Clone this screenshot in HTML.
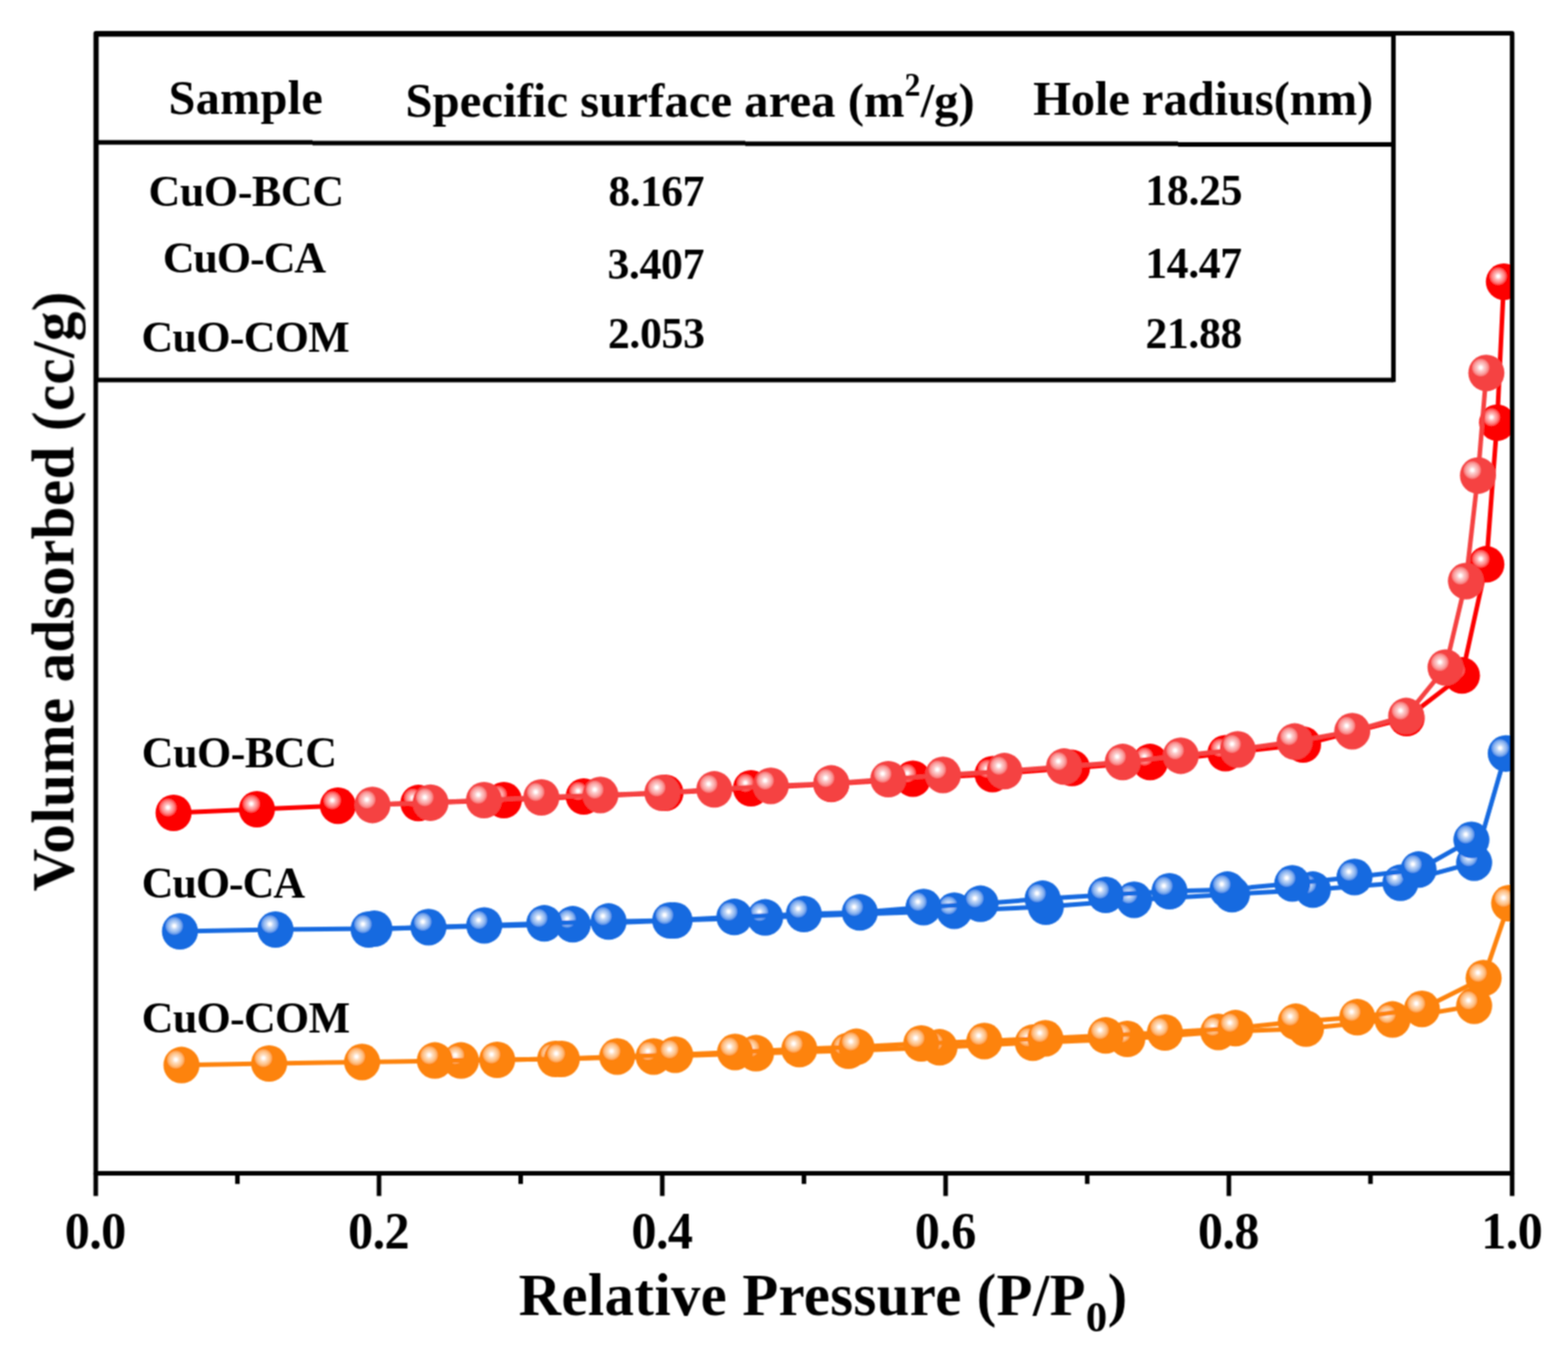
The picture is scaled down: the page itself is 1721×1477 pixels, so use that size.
<!DOCTYPE html>
<html lang="en"><head><meta charset="utf-8"><title>N2 adsorption-desorption isotherms</title>
<style>
html,body{margin:0;padding:0;background:#fff;}
body{width:1721px;height:1477px;overflow:hidden;}
svg{display:block;}
text{font-family:"Liberation Serif","DejaVu Serif",serif;font-weight:bold;fill:#000;}
</style></head><body>
<svg width="1721" height="1477" viewBox="0 0 1721 1477">
<defs>
<clipPath id="pc"><rect x="105.1" y="36.6" width="1554.6" height="1250.8"/></clipPath>
<radialGradient id="grA" cx="0.343" cy="0.352" r="0.25" fx="0.343" fy="0.352"><stop offset="0" stop-color="#fff"/><stop offset="0.12" stop-color="#fff"/><stop offset="0.36" stop-color="#fff" stop-opacity="0.74"/><stop offset="0.68" stop-color="#fff" stop-opacity="0.52"/><stop offset="0.9" stop-color="#fff" stop-opacity="0.3"/><stop offset="1" stop-color="#fff" stop-opacity="0"/></radialGradient>
<radialGradient id="grB" cx="0.343" cy="0.352" r="0.25" fx="0.343" fy="0.352"><stop offset="0" stop-color="#fff"/><stop offset="0.12" stop-color="#fff"/><stop offset="0.36" stop-color="#fff" stop-opacity="0.74"/><stop offset="0.68" stop-color="#fff" stop-opacity="0.52"/><stop offset="0.9" stop-color="#fff" stop-opacity="0.3"/><stop offset="1" stop-color="#fff" stop-opacity="0"/></radialGradient>
<radialGradient id="gbA" cx="0.343" cy="0.352" r="0.25" fx="0.343" fy="0.352"><stop offset="0" stop-color="#fff"/><stop offset="0.12" stop-color="#fff"/><stop offset="0.36" stop-color="#fff" stop-opacity="0.74"/><stop offset="0.68" stop-color="#fff" stop-opacity="0.52"/><stop offset="0.9" stop-color="#fff" stop-opacity="0.3"/><stop offset="1" stop-color="#fff" stop-opacity="0"/></radialGradient>
<radialGradient id="gbB" cx="0.343" cy="0.352" r="0.25" fx="0.343" fy="0.352"><stop offset="0" stop-color="#fff"/><stop offset="0.12" stop-color="#fff"/><stop offset="0.36" stop-color="#fff" stop-opacity="0.74"/><stop offset="0.68" stop-color="#fff" stop-opacity="0.52"/><stop offset="0.9" stop-color="#fff" stop-opacity="0.3"/><stop offset="1" stop-color="#fff" stop-opacity="0"/></radialGradient>
<radialGradient id="goA" cx="0.343" cy="0.352" r="0.25" fx="0.343" fy="0.352"><stop offset="0" stop-color="#fff"/><stop offset="0.12" stop-color="#fff"/><stop offset="0.36" stop-color="#fff" stop-opacity="0.74"/><stop offset="0.68" stop-color="#fff" stop-opacity="0.52"/><stop offset="0.9" stop-color="#fff" stop-opacity="0.3"/><stop offset="1" stop-color="#fff" stop-opacity="0"/></radialGradient>
<radialGradient id="goB" cx="0.343" cy="0.352" r="0.25" fx="0.343" fy="0.352"><stop offset="0" stop-color="#fff"/><stop offset="0.12" stop-color="#fff"/><stop offset="0.36" stop-color="#fff" stop-opacity="0.74"/><stop offset="0.68" stop-color="#fff" stop-opacity="0.52"/><stop offset="0.9" stop-color="#fff" stop-opacity="0.3"/><stop offset="1" stop-color="#fff" stop-opacity="0"/></radialGradient>
<filter id="soft" x="0" y="0" width="1721" height="1477" filterUnits="userSpaceOnUse"><feConvolveMatrix order="3" kernelMatrix="1 2 1 2 4 2 1 2 1" divisor="16" edgeMode="duplicate"/></filter>
</defs>
<rect x="0" y="0" width="1721" height="1477" fill="#fff"/>
<g filter="url(#soft)">
<g clip-path="url(#pc)">
<polyline points="190.5,892 282,888 370.9,884.1 459.2,881.2 553,878 640.7,874 730.4,870 824.3,865 912.4,860.2 1002,854.5 1089.4,849.5 1176.6,842.7 1262.3,836.2 1345,826.5 1430.2,817 1543.9,788 1604.6,741.2 1631.4,619.2 1643.2,463.8 1650.6,309.1" fill="none" stroke="#fd0101" stroke-width="5.0" stroke-linejoin="round"/>
<ellipse cx="190.5" cy="892" rx="19.8" ry="20.1" fill="#fd0101"/><ellipse cx="190.5" cy="892" rx="19.8" ry="20.1" fill="url(#grA)"/>
<ellipse cx="282" cy="888" rx="19.8" ry="20.1" fill="#fd0101"/><ellipse cx="282" cy="888" rx="19.8" ry="20.1" fill="url(#grA)"/>
<ellipse cx="370.9" cy="884.1" rx="19.8" ry="20.1" fill="#fd0101"/><ellipse cx="370.9" cy="884.1" rx="19.8" ry="20.1" fill="url(#grA)"/>
<ellipse cx="459.2" cy="881.2" rx="19.8" ry="20.1" fill="#fd0101"/><ellipse cx="459.2" cy="881.2" rx="19.8" ry="20.1" fill="url(#grA)"/>
<ellipse cx="553" cy="878" rx="19.8" ry="20.1" fill="#fd0101"/><ellipse cx="553" cy="878" rx="19.8" ry="20.1" fill="url(#grA)"/>
<ellipse cx="640.7" cy="874" rx="19.8" ry="20.1" fill="#fd0101"/><ellipse cx="640.7" cy="874" rx="19.8" ry="20.1" fill="url(#grA)"/>
<ellipse cx="730.4" cy="870" rx="19.8" ry="20.1" fill="#fd0101"/><ellipse cx="730.4" cy="870" rx="19.8" ry="20.1" fill="url(#grA)"/>
<ellipse cx="824.3" cy="865" rx="19.8" ry="20.1" fill="#fd0101"/><ellipse cx="824.3" cy="865" rx="19.8" ry="20.1" fill="url(#grA)"/>
<ellipse cx="912.4" cy="860.2" rx="19.8" ry="20.1" fill="#fd0101"/><ellipse cx="912.4" cy="860.2" rx="19.8" ry="20.1" fill="url(#grA)"/>
<ellipse cx="1002" cy="854.5" rx="19.8" ry="20.1" fill="#fd0101"/><ellipse cx="1002" cy="854.5" rx="19.8" ry="20.1" fill="url(#grA)"/>
<ellipse cx="1089.4" cy="849.5" rx="19.8" ry="20.1" fill="#fd0101"/><ellipse cx="1089.4" cy="849.5" rx="19.8" ry="20.1" fill="url(#grA)"/>
<ellipse cx="1176.6" cy="842.7" rx="19.8" ry="20.1" fill="#fd0101"/><ellipse cx="1176.6" cy="842.7" rx="19.8" ry="20.1" fill="url(#grA)"/>
<ellipse cx="1262.3" cy="836.2" rx="19.8" ry="20.1" fill="#fd0101"/><ellipse cx="1262.3" cy="836.2" rx="19.8" ry="20.1" fill="url(#grA)"/>
<ellipse cx="1345" cy="826.5" rx="19.8" ry="20.1" fill="#fd0101"/><ellipse cx="1345" cy="826.5" rx="19.8" ry="20.1" fill="url(#grA)"/>
<ellipse cx="1430.2" cy="817" rx="19.8" ry="20.1" fill="#fd0101"/><ellipse cx="1430.2" cy="817" rx="19.8" ry="20.1" fill="url(#grA)"/>
<ellipse cx="1543.9" cy="788" rx="19.8" ry="20.1" fill="#fd0101"/><ellipse cx="1543.9" cy="788" rx="19.8" ry="20.1" fill="url(#grA)"/>
<ellipse cx="1604.6" cy="741.2" rx="19.8" ry="20.1" fill="#fd0101"/><ellipse cx="1604.6" cy="741.2" rx="19.8" ry="20.1" fill="url(#grA)"/>
<ellipse cx="1631.4" cy="619.2" rx="19.8" ry="20.1" fill="#fd0101"/><ellipse cx="1631.4" cy="619.2" rx="19.8" ry="20.1" fill="url(#grA)"/>
<ellipse cx="1643.2" cy="463.8" rx="19.8" ry="20.1" fill="#fd0101"/><ellipse cx="1643.2" cy="463.8" rx="19.8" ry="20.1" fill="url(#grA)"/>
<ellipse cx="1650.6" cy="309.1" rx="19.8" ry="20.1" fill="#fd0101"/><ellipse cx="1650.6" cy="309.1" rx="19.8" ry="20.1" fill="url(#grA)"/>
<polyline points="408.8,883.3 472.5,880.8 531.2,878 594.2,875 659,872.4 727,870 784,866.2 846,862.4 912.4,859.7 975,855 1035,850.4 1102.4,846.2 1167.9,841.2 1232.3,836.2 1296,829.3 1358.5,822.4 1421,813.7 1484.2,802.4 1543.4,785.7 1586.6,732.5 1609,637.6 1622.2,521.8 1631.4,409.3" fill="none" stroke="#f54242" stroke-width="5.0" stroke-linejoin="round"/>
<ellipse cx="408.8" cy="883.3" rx="19.8" ry="20.1" fill="#f54242"/><ellipse cx="408.8" cy="883.3" rx="19.8" ry="20.1" fill="url(#grB)"/>
<ellipse cx="472.5" cy="880.8" rx="19.8" ry="20.1" fill="#f54242"/><ellipse cx="472.5" cy="880.8" rx="19.8" ry="20.1" fill="url(#grB)"/>
<ellipse cx="531.2" cy="878" rx="19.8" ry="20.1" fill="#f54242"/><ellipse cx="531.2" cy="878" rx="19.8" ry="20.1" fill="url(#grB)"/>
<ellipse cx="594.2" cy="875" rx="19.8" ry="20.1" fill="#f54242"/><ellipse cx="594.2" cy="875" rx="19.8" ry="20.1" fill="url(#grB)"/>
<ellipse cx="659" cy="872.4" rx="19.8" ry="20.1" fill="#f54242"/><ellipse cx="659" cy="872.4" rx="19.8" ry="20.1" fill="url(#grB)"/>
<ellipse cx="727" cy="870" rx="19.8" ry="20.1" fill="#f54242"/><ellipse cx="727" cy="870" rx="19.8" ry="20.1" fill="url(#grB)"/>
<ellipse cx="784" cy="866.2" rx="19.8" ry="20.1" fill="#f54242"/><ellipse cx="784" cy="866.2" rx="19.8" ry="20.1" fill="url(#grB)"/>
<ellipse cx="846" cy="862.4" rx="19.8" ry="20.1" fill="#f54242"/><ellipse cx="846" cy="862.4" rx="19.8" ry="20.1" fill="url(#grB)"/>
<ellipse cx="912.4" cy="859.7" rx="19.8" ry="20.1" fill="#f54242"/><ellipse cx="912.4" cy="859.7" rx="19.8" ry="20.1" fill="url(#grB)"/>
<ellipse cx="975" cy="855" rx="19.8" ry="20.1" fill="#f54242"/><ellipse cx="975" cy="855" rx="19.8" ry="20.1" fill="url(#grB)"/>
<ellipse cx="1035" cy="850.4" rx="19.8" ry="20.1" fill="#f54242"/><ellipse cx="1035" cy="850.4" rx="19.8" ry="20.1" fill="url(#grB)"/>
<ellipse cx="1102.4" cy="846.2" rx="19.8" ry="20.1" fill="#f54242"/><ellipse cx="1102.4" cy="846.2" rx="19.8" ry="20.1" fill="url(#grB)"/>
<ellipse cx="1167.9" cy="841.2" rx="19.8" ry="20.1" fill="#f54242"/><ellipse cx="1167.9" cy="841.2" rx="19.8" ry="20.1" fill="url(#grB)"/>
<ellipse cx="1232.3" cy="836.2" rx="19.8" ry="20.1" fill="#f54242"/><ellipse cx="1232.3" cy="836.2" rx="19.8" ry="20.1" fill="url(#grB)"/>
<ellipse cx="1296" cy="829.3" rx="19.8" ry="20.1" fill="#f54242"/><ellipse cx="1296" cy="829.3" rx="19.8" ry="20.1" fill="url(#grB)"/>
<ellipse cx="1358.5" cy="822.4" rx="19.8" ry="20.1" fill="#f54242"/><ellipse cx="1358.5" cy="822.4" rx="19.8" ry="20.1" fill="url(#grB)"/>
<ellipse cx="1421" cy="813.7" rx="19.8" ry="20.1" fill="#f54242"/><ellipse cx="1421" cy="813.7" rx="19.8" ry="20.1" fill="url(#grB)"/>
<ellipse cx="1484.2" cy="802.4" rx="19.8" ry="20.1" fill="#f54242"/><ellipse cx="1484.2" cy="802.4" rx="19.8" ry="20.1" fill="url(#grB)"/>
<ellipse cx="1543.4" cy="785.7" rx="19.8" ry="20.1" fill="#f54242"/><ellipse cx="1543.4" cy="785.7" rx="19.8" ry="20.1" fill="url(#grB)"/>
<ellipse cx="1586.6" cy="732.5" rx="19.8" ry="20.1" fill="#f54242"/><ellipse cx="1586.6" cy="732.5" rx="19.8" ry="20.1" fill="url(#grB)"/>
<ellipse cx="1609" cy="637.6" rx="19.8" ry="20.1" fill="#f54242"/><ellipse cx="1609" cy="637.6" rx="19.8" ry="20.1" fill="url(#grB)"/>
<ellipse cx="1622.2" cy="521.8" rx="19.8" ry="20.1" fill="#f54242"/><ellipse cx="1622.2" cy="521.8" rx="19.8" ry="20.1" fill="url(#grB)"/>
<ellipse cx="1631.4" cy="409.3" rx="19.8" ry="20.1" fill="#f54242"/><ellipse cx="1631.4" cy="409.3" rx="19.8" ry="20.1" fill="url(#grB)"/>
<polyline points="197.5,1022 302.4,1020 410.9,1019 628.7,1014.2 740.4,1010 839.8,1006.7 1047.4,999.4 1147.9,995 1244.8,987.4 1352.2,981.2 1441,976.2 1537.1,968.7 1618,946.6 1652.7,826.8" fill="none" stroke="#196ae0" stroke-width="5.0" stroke-linejoin="round"/>
<ellipse cx="197.5" cy="1022" rx="19.8" ry="20.1" fill="#196ae0"/><ellipse cx="197.5" cy="1022" rx="19.8" ry="20.1" fill="url(#gbA)"/>
<ellipse cx="302.4" cy="1020" rx="19.8" ry="20.1" fill="#196ae0"/><ellipse cx="302.4" cy="1020" rx="19.8" ry="20.1" fill="url(#gbA)"/>
<ellipse cx="410.9" cy="1019" rx="19.8" ry="20.1" fill="#196ae0"/><ellipse cx="410.9" cy="1019" rx="19.8" ry="20.1" fill="url(#gbA)"/>
<ellipse cx="628.7" cy="1014.2" rx="19.8" ry="20.1" fill="#196ae0"/><ellipse cx="628.7" cy="1014.2" rx="19.8" ry="20.1" fill="url(#gbA)"/>
<ellipse cx="740.4" cy="1010" rx="19.8" ry="20.1" fill="#196ae0"/><ellipse cx="740.4" cy="1010" rx="19.8" ry="20.1" fill="url(#gbA)"/>
<ellipse cx="839.8" cy="1006.7" rx="19.8" ry="20.1" fill="#196ae0"/><ellipse cx="839.8" cy="1006.7" rx="19.8" ry="20.1" fill="url(#gbA)"/>
<ellipse cx="1047.4" cy="999.4" rx="19.8" ry="20.1" fill="#196ae0"/><ellipse cx="1047.4" cy="999.4" rx="19.8" ry="20.1" fill="url(#gbA)"/>
<ellipse cx="1147.9" cy="995" rx="19.8" ry="20.1" fill="#196ae0"/><ellipse cx="1147.9" cy="995" rx="19.8" ry="20.1" fill="url(#gbA)"/>
<ellipse cx="1244.8" cy="987.4" rx="19.8" ry="20.1" fill="#196ae0"/><ellipse cx="1244.8" cy="987.4" rx="19.8" ry="20.1" fill="url(#gbA)"/>
<ellipse cx="1352.2" cy="981.2" rx="19.8" ry="20.1" fill="#196ae0"/><ellipse cx="1352.2" cy="981.2" rx="19.8" ry="20.1" fill="url(#gbA)"/>
<ellipse cx="1441" cy="976.2" rx="19.8" ry="20.1" fill="#196ae0"/><ellipse cx="1441" cy="976.2" rx="19.8" ry="20.1" fill="url(#gbA)"/>
<ellipse cx="1537.1" cy="968.7" rx="19.8" ry="20.1" fill="#196ae0"/><ellipse cx="1537.1" cy="968.7" rx="19.8" ry="20.1" fill="url(#gbA)"/>
<ellipse cx="1618" cy="946.6" rx="19.8" ry="20.1" fill="#196ae0"/><ellipse cx="1618" cy="946.6" rx="19.8" ry="20.1" fill="url(#gbA)"/>
<ellipse cx="1652.7" cy="826.8" rx="19.8" ry="20.1" fill="#196ae0"/><ellipse cx="1652.7" cy="826.8" rx="19.8" ry="20.1" fill="url(#gbA)"/>
<polyline points="404.6,1020 470.3,1017.4 531.5,1015.5 597.4,1013.2 668,1011.2 735.6,1010 806,1006.2 882.3,1003 943.7,1001.2 1013.7,995.4 1076.2,991.7 1144.4,986.2 1213.6,982 1283.6,978 1347.2,976.2 1418.4,969.4 1486.7,962.4 1557,954.2 1615,921.6" fill="none" stroke="#196ae0" stroke-width="5.0" stroke-linejoin="round"/>
<ellipse cx="404.6" cy="1020" rx="19.8" ry="20.1" fill="#196ae0"/><ellipse cx="404.6" cy="1020" rx="19.8" ry="20.1" fill="url(#gbB)"/>
<ellipse cx="470.3" cy="1017.4" rx="19.8" ry="20.1" fill="#196ae0"/><ellipse cx="470.3" cy="1017.4" rx="19.8" ry="20.1" fill="url(#gbB)"/>
<ellipse cx="531.5" cy="1015.5" rx="19.8" ry="20.1" fill="#196ae0"/><ellipse cx="531.5" cy="1015.5" rx="19.8" ry="20.1" fill="url(#gbB)"/>
<ellipse cx="597.4" cy="1013.2" rx="19.8" ry="20.1" fill="#196ae0"/><ellipse cx="597.4" cy="1013.2" rx="19.8" ry="20.1" fill="url(#gbB)"/>
<ellipse cx="668" cy="1011.2" rx="19.8" ry="20.1" fill="#196ae0"/><ellipse cx="668" cy="1011.2" rx="19.8" ry="20.1" fill="url(#gbB)"/>
<ellipse cx="735.6" cy="1010" rx="19.8" ry="20.1" fill="#196ae0"/><ellipse cx="735.6" cy="1010" rx="19.8" ry="20.1" fill="url(#gbB)"/>
<ellipse cx="806" cy="1006.2" rx="19.8" ry="20.1" fill="#196ae0"/><ellipse cx="806" cy="1006.2" rx="19.8" ry="20.1" fill="url(#gbB)"/>
<ellipse cx="882.3" cy="1003" rx="19.8" ry="20.1" fill="#196ae0"/><ellipse cx="882.3" cy="1003" rx="19.8" ry="20.1" fill="url(#gbB)"/>
<ellipse cx="943.7" cy="1001.2" rx="19.8" ry="20.1" fill="#196ae0"/><ellipse cx="943.7" cy="1001.2" rx="19.8" ry="20.1" fill="url(#gbB)"/>
<ellipse cx="1013.7" cy="995.4" rx="19.8" ry="20.1" fill="#196ae0"/><ellipse cx="1013.7" cy="995.4" rx="19.8" ry="20.1" fill="url(#gbB)"/>
<ellipse cx="1076.2" cy="991.7" rx="19.8" ry="20.1" fill="#196ae0"/><ellipse cx="1076.2" cy="991.7" rx="19.8" ry="20.1" fill="url(#gbB)"/>
<ellipse cx="1144.4" cy="986.2" rx="19.8" ry="20.1" fill="#196ae0"/><ellipse cx="1144.4" cy="986.2" rx="19.8" ry="20.1" fill="url(#gbB)"/>
<ellipse cx="1213.6" cy="982" rx="19.8" ry="20.1" fill="#196ae0"/><ellipse cx="1213.6" cy="982" rx="19.8" ry="20.1" fill="url(#gbB)"/>
<ellipse cx="1283.6" cy="978" rx="19.8" ry="20.1" fill="#196ae0"/><ellipse cx="1283.6" cy="978" rx="19.8" ry="20.1" fill="url(#gbB)"/>
<ellipse cx="1347.2" cy="976.2" rx="19.8" ry="20.1" fill="#196ae0"/><ellipse cx="1347.2" cy="976.2" rx="19.8" ry="20.1" fill="url(#gbB)"/>
<ellipse cx="1418.4" cy="969.4" rx="19.8" ry="20.1" fill="#196ae0"/><ellipse cx="1418.4" cy="969.4" rx="19.8" ry="20.1" fill="url(#gbB)"/>
<ellipse cx="1486.7" cy="962.4" rx="19.8" ry="20.1" fill="#196ae0"/><ellipse cx="1486.7" cy="962.4" rx="19.8" ry="20.1" fill="url(#gbB)"/>
<ellipse cx="1557" cy="954.2" rx="19.8" ry="20.1" fill="#196ae0"/><ellipse cx="1557" cy="954.2" rx="19.8" ry="20.1" fill="url(#gbB)"/>
<ellipse cx="1615" cy="921.6" rx="19.8" ry="20.1" fill="#196ae0"/><ellipse cx="1615" cy="921.6" rx="19.8" ry="20.1" fill="url(#gbB)"/>
<polyline points="199.2,1168.7 295.4,1167 397.4,1165.4 506,1163.7 609.4,1162 717.4,1159.4 829.8,1155.7 931.2,1153 1031.2,1149.2 1133.6,1144.2 1237.3,1140 1337.2,1132.4 1433.4,1128.7 1528.4,1118.7 1618,1103.6 1656.4,991.1" fill="none" stroke="#fd8310" stroke-width="5.0" stroke-linejoin="round"/>
<ellipse cx="199.2" cy="1168.7" rx="19.8" ry="20.1" fill="#fd8310"/><ellipse cx="199.2" cy="1168.7" rx="19.8" ry="20.1" fill="url(#goA)"/>
<ellipse cx="295.4" cy="1167" rx="19.8" ry="20.1" fill="#fd8310"/><ellipse cx="295.4" cy="1167" rx="19.8" ry="20.1" fill="url(#goA)"/>
<ellipse cx="397.4" cy="1165.4" rx="19.8" ry="20.1" fill="#fd8310"/><ellipse cx="397.4" cy="1165.4" rx="19.8" ry="20.1" fill="url(#goA)"/>
<ellipse cx="506" cy="1163.7" rx="19.8" ry="20.1" fill="#fd8310"/><ellipse cx="506" cy="1163.7" rx="19.8" ry="20.1" fill="url(#goA)"/>
<ellipse cx="609.4" cy="1162" rx="19.8" ry="20.1" fill="#fd8310"/><ellipse cx="609.4" cy="1162" rx="19.8" ry="20.1" fill="url(#goA)"/>
<ellipse cx="717.4" cy="1159.4" rx="19.8" ry="20.1" fill="#fd8310"/><ellipse cx="717.4" cy="1159.4" rx="19.8" ry="20.1" fill="url(#goA)"/>
<ellipse cx="829.8" cy="1155.7" rx="19.8" ry="20.1" fill="#fd8310"/><ellipse cx="829.8" cy="1155.7" rx="19.8" ry="20.1" fill="url(#goA)"/>
<ellipse cx="931.2" cy="1153" rx="19.8" ry="20.1" fill="#fd8310"/><ellipse cx="931.2" cy="1153" rx="19.8" ry="20.1" fill="url(#goA)"/>
<ellipse cx="1031.2" cy="1149.2" rx="19.8" ry="20.1" fill="#fd8310"/><ellipse cx="1031.2" cy="1149.2" rx="19.8" ry="20.1" fill="url(#goA)"/>
<ellipse cx="1133.6" cy="1144.2" rx="19.8" ry="20.1" fill="#fd8310"/><ellipse cx="1133.6" cy="1144.2" rx="19.8" ry="20.1" fill="url(#goA)"/>
<ellipse cx="1237.3" cy="1140" rx="19.8" ry="20.1" fill="#fd8310"/><ellipse cx="1237.3" cy="1140" rx="19.8" ry="20.1" fill="url(#goA)"/>
<ellipse cx="1337.2" cy="1132.4" rx="19.8" ry="20.1" fill="#fd8310"/><ellipse cx="1337.2" cy="1132.4" rx="19.8" ry="20.1" fill="url(#goA)"/>
<ellipse cx="1433.4" cy="1128.7" rx="19.8" ry="20.1" fill="#fd8310"/><ellipse cx="1433.4" cy="1128.7" rx="19.8" ry="20.1" fill="url(#goA)"/>
<ellipse cx="1528.4" cy="1118.7" rx="19.8" ry="20.1" fill="#fd8310"/><ellipse cx="1528.4" cy="1118.7" rx="19.8" ry="20.1" fill="url(#goA)"/>
<ellipse cx="1618" cy="1103.6" rx="19.8" ry="20.1" fill="#fd8310"/><ellipse cx="1618" cy="1103.6" rx="19.8" ry="20.1" fill="url(#goA)"/>
<ellipse cx="1656.4" cy="991.1" rx="19.8" ry="20.1" fill="#fd8310"/><ellipse cx="1656.4" cy="991.1" rx="19.8" ry="20.1" fill="url(#goA)"/>
<polyline points="477.3,1163.7 545.7,1163 616.7,1162 677.4,1159.4 741.1,1157.4 806.8,1154.4 877.3,1151.2 940,1148.7 1011.2,1145 1080.4,1142.4 1147.4,1139.4 1213.6,1136.2 1278.6,1133 1356,1128.2 1422.2,1121.2 1489.7,1116.2 1560.7,1107.1 1628.4,1073.3" fill="none" stroke="#fd8310" stroke-width="5.0" stroke-linejoin="round"/>
<ellipse cx="477.3" cy="1163.7" rx="19.8" ry="20.1" fill="#fd8310"/><ellipse cx="477.3" cy="1163.7" rx="19.8" ry="20.1" fill="url(#goB)"/>
<ellipse cx="545.7" cy="1163" rx="19.8" ry="20.1" fill="#fd8310"/><ellipse cx="545.7" cy="1163" rx="19.8" ry="20.1" fill="url(#goB)"/>
<ellipse cx="616.7" cy="1162" rx="19.8" ry="20.1" fill="#fd8310"/><ellipse cx="616.7" cy="1162" rx="19.8" ry="20.1" fill="url(#goB)"/>
<ellipse cx="677.4" cy="1159.4" rx="19.8" ry="20.1" fill="#fd8310"/><ellipse cx="677.4" cy="1159.4" rx="19.8" ry="20.1" fill="url(#goB)"/>
<ellipse cx="741.1" cy="1157.4" rx="19.8" ry="20.1" fill="#fd8310"/><ellipse cx="741.1" cy="1157.4" rx="19.8" ry="20.1" fill="url(#goB)"/>
<ellipse cx="806.8" cy="1154.4" rx="19.8" ry="20.1" fill="#fd8310"/><ellipse cx="806.8" cy="1154.4" rx="19.8" ry="20.1" fill="url(#goB)"/>
<ellipse cx="877.3" cy="1151.2" rx="19.8" ry="20.1" fill="#fd8310"/><ellipse cx="877.3" cy="1151.2" rx="19.8" ry="20.1" fill="url(#goB)"/>
<ellipse cx="940" cy="1148.7" rx="19.8" ry="20.1" fill="#fd8310"/><ellipse cx="940" cy="1148.7" rx="19.8" ry="20.1" fill="url(#goB)"/>
<ellipse cx="1011.2" cy="1145" rx="19.8" ry="20.1" fill="#fd8310"/><ellipse cx="1011.2" cy="1145" rx="19.8" ry="20.1" fill="url(#goB)"/>
<ellipse cx="1080.4" cy="1142.4" rx="19.8" ry="20.1" fill="#fd8310"/><ellipse cx="1080.4" cy="1142.4" rx="19.8" ry="20.1" fill="url(#goB)"/>
<ellipse cx="1147.4" cy="1139.4" rx="19.8" ry="20.1" fill="#fd8310"/><ellipse cx="1147.4" cy="1139.4" rx="19.8" ry="20.1" fill="url(#goB)"/>
<ellipse cx="1213.6" cy="1136.2" rx="19.8" ry="20.1" fill="#fd8310"/><ellipse cx="1213.6" cy="1136.2" rx="19.8" ry="20.1" fill="url(#goB)"/>
<ellipse cx="1278.6" cy="1133" rx="19.8" ry="20.1" fill="#fd8310"/><ellipse cx="1278.6" cy="1133" rx="19.8" ry="20.1" fill="url(#goB)"/>
<ellipse cx="1356" cy="1128.2" rx="19.8" ry="20.1" fill="#fd8310"/><ellipse cx="1356" cy="1128.2" rx="19.8" ry="20.1" fill="url(#goB)"/>
<ellipse cx="1422.2" cy="1121.2" rx="19.8" ry="20.1" fill="#fd8310"/><ellipse cx="1422.2" cy="1121.2" rx="19.8" ry="20.1" fill="url(#goB)"/>
<ellipse cx="1489.7" cy="1116.2" rx="19.8" ry="20.1" fill="#fd8310"/><ellipse cx="1489.7" cy="1116.2" rx="19.8" ry="20.1" fill="url(#goB)"/>
<ellipse cx="1560.7" cy="1107.1" rx="19.8" ry="20.1" fill="#fd8310"/><ellipse cx="1560.7" cy="1107.1" rx="19.8" ry="20.1" fill="url(#goB)"/>
<ellipse cx="1628.4" cy="1073.3" rx="19.8" ry="20.1" fill="#fd8310"/><ellipse cx="1628.4" cy="1073.3" rx="19.8" ry="20.1" fill="url(#goB)"/>
</g>
<g stroke="#000" stroke-width="5" fill="none">
<line x1="1529.4" y1="36.6" x2="1529.4" y2="419.2"/>
<line x1="105.1" y1="416.9" x2="1529.4" y2="416.9"/>
<line x1="105.1" y1="37.7" x2="1529.4" y2="37.7"/>
<line x1="105.8" y1="36.6" x2="105.8" y2="416.9"/>
<line x1="105.1" y1="156.2" x2="343" y2="156.2"/>
<line x1="343" y1="157.0" x2="818" y2="157.0"/>
<line x1="818" y1="157.7" x2="1293" y2="157.7"/>
<line x1="1293" y1="158.4" x2="1529.4" y2="158.4"/>
</g>
<rect x="105.1" y="36.6" width="1554.6" height="1250.8" fill="none" stroke="#000" stroke-width="5.0" stroke-linejoin="round"/>
<g stroke="#000" stroke-width="5.0">
<line x1="105.1" y1="1287.3" x2="105.1" y2="1312.4"/>
<line x1="260.6" y1="1287.3" x2="260.6" y2="1299.2"/>
<line x1="416" y1="1287.3" x2="416" y2="1312.4"/>
<line x1="571.5" y1="1287.3" x2="571.5" y2="1299.2"/>
<line x1="726.9" y1="1287.3" x2="726.9" y2="1312.4"/>
<line x1="882.4" y1="1287.3" x2="882.4" y2="1299.2"/>
<line x1="1037.9" y1="1287.3" x2="1037.9" y2="1312.4"/>
<line x1="1193.3" y1="1287.3" x2="1193.3" y2="1299.2"/>
<line x1="1348.8" y1="1287.3" x2="1348.8" y2="1312.4"/>
<line x1="1504.2" y1="1287.3" x2="1504.2" y2="1299.2"/>
<line x1="1659.7" y1="1287.3" x2="1659.7" y2="1312.4"/>
</g>
<text transform="translate(71.1,1370.3) scale(1,1.037)" font-size="55.2" letter-spacing="-0.7">0.0</text>
<text transform="translate(382.1,1370.3) scale(1,1.037)" font-size="55.2" letter-spacing="-0.7">0.2</text>
<text transform="translate(693,1370.3) scale(1,1.037)" font-size="55.2" letter-spacing="-0.7">0.4</text>
<text transform="translate(1003.9,1370.3) scale(1,1.037)" font-size="55.2" letter-spacing="-0.7">0.6</text>
<text transform="translate(1314.8,1370.3) scale(1,1.037)" font-size="55.2" letter-spacing="-0.7">0.8</text>
<text transform="translate(1625.8,1370.3) scale(1,1.037)" font-size="55.2" letter-spacing="-0.7">1.0</text>
<text x="569.3" y="1443.3" font-size="64.5" letter-spacing="0.396">Relative Pressure (P/P<tspan font-size="47" dy="17.2">0</tspan><tspan dy="-17.2">)</tspan></text>
<text transform="translate(80.5,978.15) rotate(-90)" font-size="65" letter-spacing="0.333">Volume adsorbed (cc/g)</text>
<text x="185.05" y="125.2" font-size="53" letter-spacing="0.27">Sample</text>
<text x="444.95" y="128.4" font-size="53.5" letter-spacing="0.03">Specific surface area (m<tspan font-size="35" dy="-23">2</tspan><tspan dy="23">/g)</tspan></text>
<text x="1133.9" y="126.0" font-size="53.3" letter-spacing="-0.089">Hole radius(nm)</text>
<text x="163.05" y="225.9" font-size="48.3" letter-spacing="-0.483">CuO-BCC</text>
<text x="178.65" y="298.5" font-size="48.3" letter-spacing="-1.16">CuO-CA</text>
<text x="155.25" y="385.5" font-size="48.3" letter-spacing="-0.792">CuO-COM</text>
<text x="667.7" y="225.75" font-size="48" letter-spacing="-0.612">8.167</text>
<text x="666.65" y="305.65" font-size="48" letter-spacing="-0.35">3.407</text>
<text x="667.2" y="382.25" font-size="48" letter-spacing="-0.362">2.053</text>
<text x="1257.05" y="225.45" font-size="48" letter-spacing="-0.325">18.25</text>
<text x="1257.05" y="305.35" font-size="48" letter-spacing="-0.45">14.47</text>
<text x="1257.2" y="382.25" font-size="48" letter-spacing="-0.425">21.88</text>
<text x="155.55" y="841.7" font-size="48.3" letter-spacing="-0.517">CuO-BCC</text>
<text x="155.55" y="984.9" font-size="48.3" letter-spacing="-1.16">CuO-CA</text>
<text x="155.55" y="1132.7" font-size="48.3" letter-spacing="-0.792">CuO-COM</text>
</g>
</svg>
</body></html>
